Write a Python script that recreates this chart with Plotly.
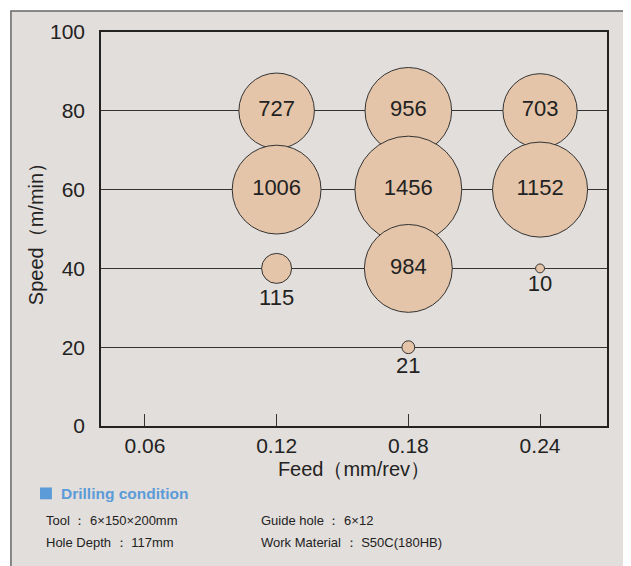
import plotly.graph_objects as go

# data, drawn top row first so lower bubbles overlap upper ones
feed = [0.12, 0.18, 0.24, 0.12, 0.18, 0.24, 0.12, 0.18, 0.24, 0.18]
speed = [80, 80, 80, 60, 60, 60, 40, 40, 40, 20]
holes = [727, 956, 703, 1006, 1456, 1152, 115, 984, 10, 21]
label_pos = ['middle center'] * 6 + ['bottom center', 'middle center', 'bottom center', 'bottom center']

x_ticks = [0.06, 0.12, 0.18, 0.24]
x_ticktext = ['0.06', '0.12', '0.18', '0.24']
y_ticks = [0, 20, 40, 60, 80, 100]

BG = '#e2dedb'
BUBBLE = '#e4c5a9'
LINE = '#333333'
BLUE = '#5b9bd8'
FONT = 'Liberation Sans, Arial, sans-serif'

fig = go.Figure()

fig.add_trace(go.Scatter(
    x=feed,
    y=speed,
    mode='markers+text',
    text=[str(v) for v in holes],
    textposition=label_pos,
    textfont=dict(size=22, color='#222222', family=FONT),
    marker=dict(
        size=holes,
        sizemode='area',
        sizeref=0.255,
        color=BUBBLE,
        opacity=1,
        line=dict(color=LINE, width=1),
    ),
    cliponaxis=False,
    showlegend=False,
    hovertemplate='Feed %{x}<br>Speed %{y}<br>%{text}<extra></extra>',
))

# grey panel with frame behind everything
fig.add_shape(type='rect', xref='paper', yref='paper',
              x0=-0.178, x1=1.045, y0=-0.37, y1=1.053,
              fillcolor=BG, line=dict(color='#666666', width=1.5), layer='below')

# notes under the chart
fig.add_shape(type='rect', xref='paper', yref='paper',
              x0=-0.1206, x1=-0.097, y0=-0.156, y1=-0.186,
              fillcolor=BLUE, line=dict(width=0), layer='above')
fig.add_annotation(xref='paper', yref='paper', x=-0.083, y=-0.171, xanchor='left', yanchor='middle',
                   text='<b>Drilling condition</b>',
                   font=dict(size=15.5, color=BLUE, family=FONT), showarrow=False)
notes = [
    (-0.113, -0.239, 'Tool ： 6×150×200mm'),
    (-0.113, -0.295, 'Hole Depth ： 117mm'),
    (0.312, -0.239, 'Guide hole ： 6×12'),
    (0.312, -0.295, 'Work Material ： S50C(180HB)'),
]
for nx, ny, txt in notes:
    fig.add_annotation(xref='paper', yref='paper', x=nx, y=ny, xanchor='left', yanchor='middle',
                       text=txt, font=dict(size=13, color='#222222', family=FONT), showarrow=False)

fig.update_layout(
    width=623,
    height=558,
    paper_bgcolor='white',
    plot_bgcolor='white',
    margin=dict(l=93, r=24, t=21, b=140),
    font=dict(family=FONT, color='#222222'),
    xaxis=dict(
        range=[0.04, 0.2705],
        tickvals=x_ticks,
        ticktext=x_ticktext,
        ticks='inside',
        ticklen=12,
        tickwidth=1.2,
        tickcolor='#333333',
        tickfont=dict(size=21),
        showgrid=False,
        zeroline=False,
        showline=True,
        mirror=True,
        linecolor='#222222',
        linewidth=1.5,
        title=dict(text='Feed（mm/rev）', font=dict(size=20), standoff=6),
    ),
    yaxis=dict(
        range=[0, 100],
        tickvals=y_ticks,
        tickfont=dict(size=21),
        ticks='',
        ticklabelstandoff=10,
        showgrid=True,
        gridcolor='#333333',
        gridwidth=1.3,
        zeroline=False,
        showline=True,
        mirror=True,
        linecolor='#222222',
        linewidth=1.5,
        title=dict(text='Speed（m/min）', font=dict(size=20), standoff=1),
    ),
)

fig.write_html('out.html')
